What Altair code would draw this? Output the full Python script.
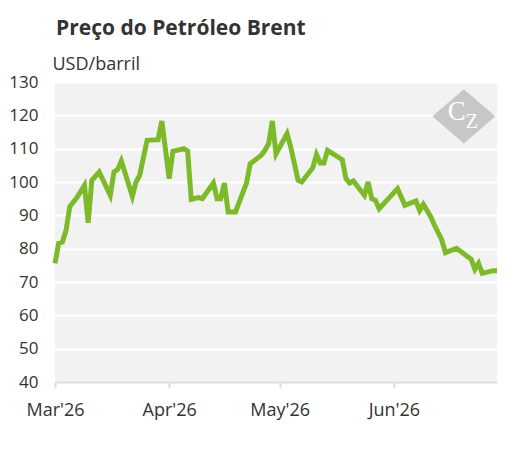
import altair as alt
import pandas as pd

dates = [
    "2026-03-01", "2026-03-02", "2026-03-03", "2026-03-04", "2026-03-05", "2026-03-07",
    "2026-03-09", "2026-03-10", "2026-03-11", "2026-03-13", "2026-03-16", "2026-03-17",
    "2026-03-18", "2026-03-19", "2026-03-22", "2026-03-23", "2026-03-24", "2026-03-26",
    "2026-03-29", "2026-03-30", "2026-04-01", "2026-04-02", "2026-04-05", "2026-04-06",
    "2026-04-07", "2026-04-09", "2026-04-10", "2026-04-13", "2026-04-14", "2026-04-15",
    "2026-04-16", "2026-04-17", "2026-04-19", "2026-04-22", "2026-04-23", "2026-04-26",
    "2026-04-27", "2026-04-28", "2026-04-29", "2026-04-30", "2026-05-03", "2026-05-04",
    "2026-05-06", "2026-05-07", "2026-05-10", "2026-05-11", "2026-05-12", "2026-05-13",
    "2026-05-14", "2026-05-18", "2026-05-19", "2026-05-20", "2026-05-21", "2026-05-24",
    "2026-05-25", "2026-05-26", "2026-05-27", "2026-05-28", "2026-06-02", "2026-06-04",
    "2026-06-07", "2026-06-08", "2026-06-09", "2026-06-11", "2026-06-12", "2026-06-14",
    "2026-06-15", "2026-06-18", "2026-06-22", "2026-06-23", "2026-06-24", "2026-06-25",
    "2026-06-28", "2026-06-29",
]
prices = [
    75.6, 81.6, 82.0, 85.5, 92.6, 95.4,
    99.0, 87.8, 100.5, 103.0, 96.0, 103.0,
    103.7, 106.3, 95.7, 100.0, 102.0, 112.5,
    112.7, 118.3, 101.0, 109.2, 110.0, 109.3,
    94.8, 95.3, 95.0, 99.7, 95.0, 95.0,
    99.7, 91.0, 91.0, 99.7, 105.5, 108.0,
    109.5, 111.5, 118.3, 108.4, 114.5, 110.5,
    100.5, 100.0, 104.3, 108.2, 105.7, 105.7,
    109.5, 106.7, 101.0, 99.7, 100.3, 96.0,
    100.0, 95.0, 94.5, 92.0, 98.0, 93.0,
    94.3, 91.5, 93.3, 89.6, 87.1, 82.6,
    78.8, 80.1, 76.8, 73.8, 75.6, 72.6,
    73.4, 73.4,
]
y_ticks = [40, 50, 60, 70, 80, 90, 100, 110, 120, 130]
month_ticks = [(2026, 3, 1), (2026, 4, 1), (2026, 5, 1), (2026, 6, 1)]

logo_date = ["2026-06-20"]
logo_price = [119.7]

df = pd.DataFrame({"date": pd.to_datetime(dates), "price": prices})
logo = pd.DataFrame({"date": pd.to_datetime(logo_date), "price": logo_price})

FONT = "Open Sans"
TXT = "#333333"

x_enc = alt.X("date:T",
    scale=alt.Scale(domain=[alt.DateTime(year=2026, month=3, date=1),
                            alt.DateTime(year=2026, month=6, date=29)]),
    axis=alt.Axis(
        values=[alt.DateTime(year=a, month=b, date=c) for a, b, c in month_ticks],
        format="%b'%y", title=None, grid=False,
        domainColor="#dcdcdc", domainWidth=2,
        tickColor="#dcdcdc", tickWidth=2, tickSize=6,
        labelFontSize=18, labelColor=TXT, labelFont=FONT,
        labelBaseline="alphabetic", labelPadding=27,
        labelFlush=False, labelOverlap=False))
y_enc = alt.Y("price:Q",
    scale=alt.Scale(domain=[40, 130], nice=False, zero=False),
    axis=alt.Axis(
        values=y_ticks, title="USD/barril", titleAngle=0,
        titleX=-3, titleY=-13, titleAlign="left", titleBaseline="alphabetic",
        titleFontSize=18, titleFontWeight="normal", titleColor=TXT, titleFont=FONT,
        labelFontSize=17, labelColor=TXT, labelFont=FONT, labelPadding=17,
        ticks=False, domain=False, grid=True,
        gridColor="#ffffff", gridWidth=2, gridOpacity=1))

line = alt.Chart(df).mark_line(color="#7cba29", strokeWidth=5).encode(
    x=x_enc, y=y_enc)

diamond = alt.Chart(logo).mark_point(
    shape="M0,-0.86L1,0L0,0.86L-1,0Z", filled=True, size=3969,
    color="#bcbcbc", opacity=0.8,
).encode(x=x_enc, y=y_enc)

letter_c = alt.Chart(logo).mark_text(
    text="C", font="Liberation Serif", fontSize=27, color="#ffffff",
    dx=-7, dy=-4,
).encode(x=x_enc, y=y_enc)

letter_z = alt.Chart(logo).mark_text(
    text="Z", font="Liberation Serif", fontSize=20, color="#ffffff",
    dx=8, dy=6,
).encode(x=x_enc, y=y_enc)

chart = alt.layer(line, diamond, letter_c, letter_z).properties(
    width=442,
    height=300,
    title=alt.TitleParams(
        "Preço do Petróleo Brent", anchor="start", frame="group",
        fontSize=21, fontWeight="bold", color=TXT, font=FONT,
        baseline="alphabetic", offset=0, dy=1, dx=1,
    ),
    autosize=alt.AutoSizeParams(type="none"),
    padding={"left": 47, "top": 74, "right": 10, "bottom": 40},
).configure_view(fill="#f2f2f2", strokeWidth=0)

chart.save("out.html", embed_options={"renderer": "svg", "actions": False})
